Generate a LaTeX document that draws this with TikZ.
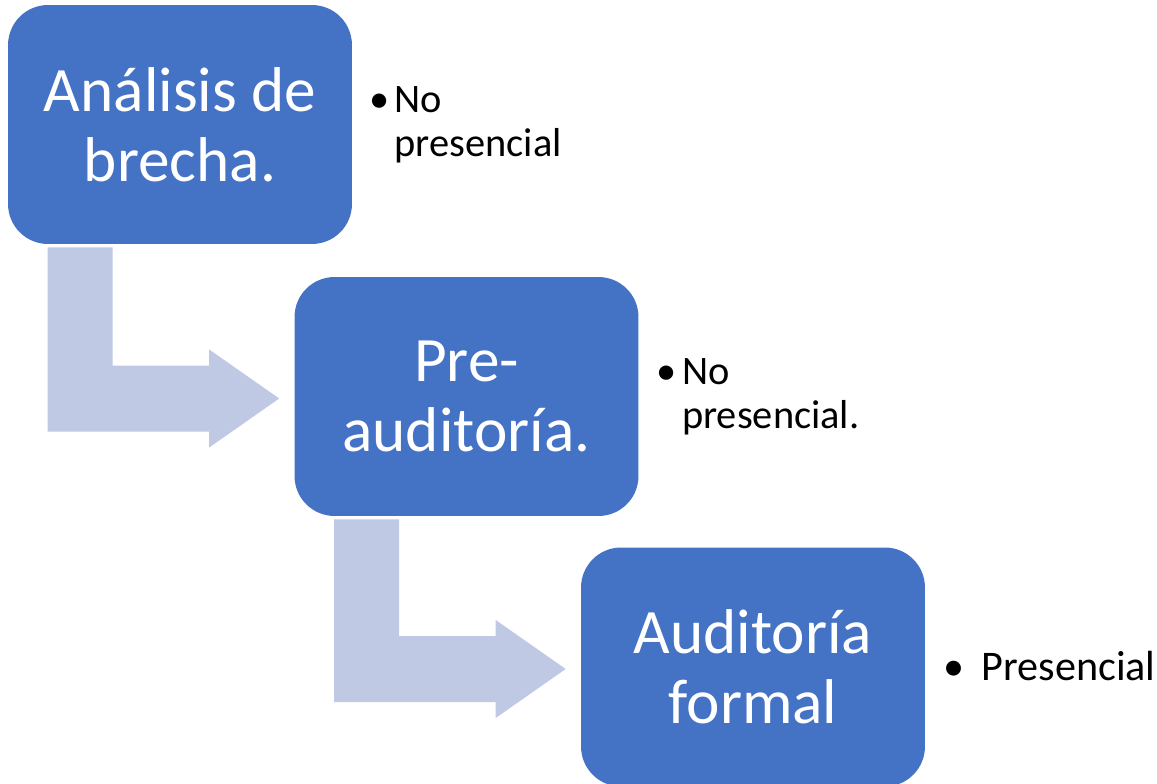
\documentclass[tikz,border=0pt]{standalone}
\usepackage{fontspec}
\setmainfont{Carlito}
\usetikzlibrary{calc}
\definecolor{azul}{RGB}{68,114,196}
\definecolor{azulclaro}{RGB}{191,201,228}

\begin{document}
\begin{tikzpicture}[x=0.02cm, y=-0.02cm,
    caja/.style={fill=azul, rounded corners=0.8cm, minimum width=6.88cm, minimum height=4.78cm,
        inner sep=0pt, align=center, text=white, font=\fontsize{36}{40}\selectfont},
    nota/.style={anchor=base west, inner sep=0pt, font=\fontsize{23}{25}\selectfont},
    flecha/.style={fill=azulclaro}]
    \useasboundingbox (0,0) rectangle (1157,784);

    % Cajas
    \node[caja] (analisis) at (180,124.5) {Análisis de\\brecha.};
    \node[caja] (preaud) at (466.5,396.5) {Pre-\\auditoría.};
    \node[caja] (auditoria) at (753,667) {Auditoría\\formal};

    % Flechas dobladas
    \fill[flecha] ($(analisis.south west)+(40,3)$) -- ++(65,0) |- ($(preaud.west)+(-85,-31)$) -- ++(0,-16)
        -- ($(preaud.west)+(-15,2)$) -- ++(-70,49) -- ++(0,-16) -| ($(analisis.south west)+(40,3)$) -- cycle;
    \fill[flecha] ($(preaud.south west)+(40,3)$) -- ++(65,0) |- ($(auditoria.west)+(-85,-31)$) -- ++(0,-16)
        -- ($(auditoria.west)+(-15,2)$) -- ++(-70,49) -- ++(0,-16) -| ($(preaud.south west)+(40,3)$) -- cycle;

    % Notas
    \node[nota] (nota1) at ($(analisis.north east)+(42,108)$)
        {\begin{tabular}[t]{@{}l@{}}\llap{•\hspace{3pt}}No\\presencial\end{tabular}};
    \node[nota] (nota2) at ($(preaud.north east)+(43,108)$)
        {\begin{tabular}[t]{@{}l@{}}\llap{•\hspace{3pt}}No\\presencial.\end{tabular}};
    \node[nota, font=\fontsize{24}{28}\selectfont] (nota3) at ($(auditoria.east)+(56,13)$)
        {\llap{•\hspace{10pt}}Presencial};
\end{tikzpicture}
\end{document}
